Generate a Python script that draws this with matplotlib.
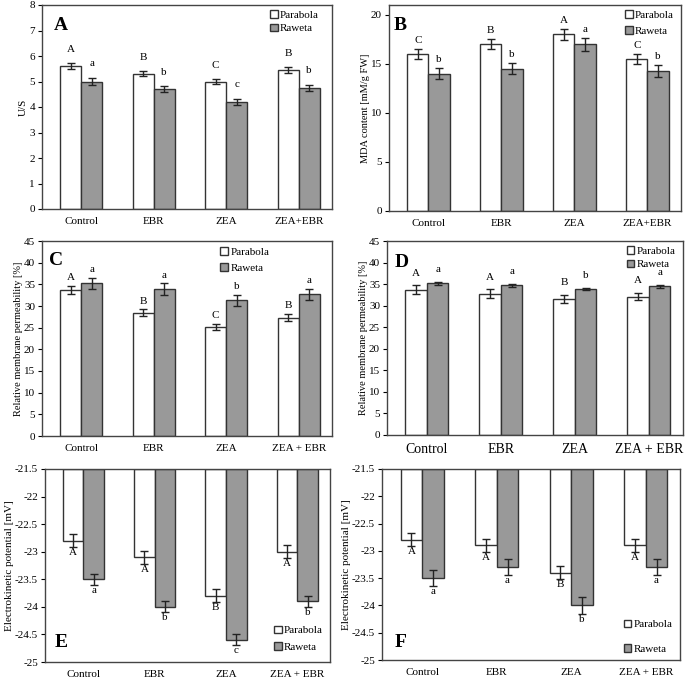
import matplotlib
matplotlib.use("Agg")
import matplotlib.pyplot as plt
import numpy as np

plt.rcParams['font.family'] = ['Liberation Serif', 'DejaVu Serif']

groups_a = ['Control', 'EBR', 'ZEA', 'ZEA+EBR']
groups_c = ['Control', 'EBR', 'ZEA', 'ZEA + EBR']
series = ['Parabola', 'Raweta']

# A - U/S
a_par = [5.6, 5.3, 5.0, 5.45]
a_par_err = [0.12, 0.1, 0.1, 0.1]
a_raw = [5.0, 4.7, 4.2, 4.75]
a_raw_err = [0.15, 0.13, 0.13, 0.13]
a_let_par = ['A', 'B', 'C', 'B']
a_let_raw = ['a', 'b', 'c', 'b']

# B - MDA
b_par = [16.0, 17.0, 18.0, 15.5]
b_par_err = [0.5, 0.5, 0.55, 0.5]
b_raw = [14.0, 14.5, 17.0, 14.3]
b_raw_err = [0.55, 0.55, 0.65, 0.6]
b_let_par = ['C', 'B', 'A', 'C']
b_let_raw = ['b', 'b', 'a', 'b']

# C - membrane permeability
c_par = [33.7, 28.4, 25.1, 27.3]
c_par_err = [1.0, 0.8, 0.7, 0.8]
c_raw = [35.2, 33.9, 31.3, 32.7]
c_raw_err = [1.3, 1.3, 1.2, 1.2]
c_let_par = ['A', 'B', 'C', 'B']
c_let_raw = ['a', 'a', 'b', 'a']

# D - membrane permeability
d_par = [33.7, 32.8, 31.6, 32.1]
d_par_err = [1.0, 1.0, 0.9, 0.9]
d_raw = [35.2, 34.7, 33.9, 34.5]
d_raw_err = [0.3, 0.3, 0.3, 0.35]
d_let_par = ['A', 'A', 'B', 'A']
d_let_raw = ['a', 'a', 'b', 'a']

# E - electrokinetic potential
e_par = [-22.8, -23.1, -23.8, -23.0]
e_par_err = [0.12, 0.12, 0.12, 0.12]
e_raw = [-23.5, -24.0, -24.6, -23.9]
e_raw_err = [0.1, 0.1, 0.1, 0.1]
e_let_par = ['A', 'A', 'B', 'A']
e_let_raw = ['a', 'b', 'c', 'b']

# F - electrokinetic potential
f_par = [-22.8, -22.9, -23.4, -22.9]
f_par_err = [0.12, 0.12, 0.12, 0.12]
f_raw = [-23.5, -23.3, -24.0, -23.3]
f_raw_err = [0.15, 0.15, 0.15, 0.15]
f_let_par = ['A', 'A', 'B', 'A']
f_let_raw = ['a', 'a', 'b', 'a']

W, H = 685, 679
fig = plt.figure(figsize=(W / 100, H / 100), dpi=100)


def box(l, r, t, b):
    return [l / W, (H - b) / H, (r - l) / W, (b - t) / H]


def panel(rect, groups, par, par_err, raw, raw_err, lp, lr, ylim, yticks,
          ylabel, tag, tagpos, legloc, legbox, base=0, down=False,
          xfs=8, off=0.03, legsp=0.4, ylfs=8):
    ax = fig.add_axes(rect)
    x = np.arange(len(groups)) + 0.04
    w = 0.29
    span = ylim[1] - ylim[0]
    ek = dict(ecolor='#222222', elinewidth=1, capsize=3, capthick=1)
    b1 = ax.bar(x - w / 2, np.array(par) - base, w, bottom=base, color='white',
                edgecolor='#333333', linewidth=1, yerr=par_err, error_kw=ek,
                label=series[0])
    b2 = ax.bar(x + w / 2, np.array(raw) - base, w, bottom=base, color='#999999',
                edgecolor='#333333', linewidth=1, yerr=raw_err, error_kw=ek,
                label=series[1])
    for i in range(len(groups)):
        for xx, v, e, t in [(x[i] - w / 2, par[i], par_err[i], lp[i]),
                            (x[i] + w / 2, raw[i], raw_err[i], lr[i])]:
            if down:
                ax.text(xx, v - e - off * span, t, ha='center', va='top', fontsize=8)
            else:
                ax.text(xx, v + e + off * span, t, ha='center', va='bottom', fontsize=8)
    ax.set_xlim(-0.5, len(groups) - 0.5)
    ax.set_ylim(*ylim)
    ax.set_yticks(yticks)
    ax.set_yticklabels([('%g' % v) for v in yticks], fontsize=8)
    ax.set_xticks(x)
    ax.set_xticklabels(groups, fontsize=xfs)
    ax.tick_params(axis='x', length=0, pad=6)
    ax.tick_params(axis='y', length=3, direction='out', width=0.8, pad=2)
    ax.set_ylabel(ylabel, fontsize=ylfs, labelpad=1)
    for s in ax.spines.values():
        s.set_color('#444444')
        s.set_linewidth(1)
    ax.text(tagpos[0], tagpos[1], tag, transform=ax.transAxes, fontsize=14,
            fontweight='bold', ha='left', va='center')
    ax.legend(handles=[b1, b2], loc=legloc, bbox_to_anchor=legbox, frameon=False,
              fontsize=8, handlelength=0.7, handleheight=0.7, handletextpad=0.2,
              labelspacing=legsp, borderaxespad=0)
    return ax


panel(box(42, 332, 5, 209), groups_a, a_par, a_par_err, a_raw, a_raw_err,
      a_let_par, a_let_raw, (0, 8), range(0, 9), 'U/S', 'A', (0.04, 0.9),
      'upper right', (0.97, 0.995), off=0.045, legsp=0.3)
panel(box(389, 681, 5, 211), groups_a, b_par, b_par_err, b_raw, b_raw_err,
      b_let_par, b_let_raw, (0, 21), range(0, 21, 5), 'MDA content [mM/g FW]',
      'B', (0.015, 0.9), 'upper right', (0.99, 0.995), off=0.02, legsp=0.5,
      ylfs=7.5)
panel(box(42, 332, 241, 436), groups_c, c_par, c_par_err, c_raw, c_raw_err,
      c_let_par, c_let_raw, (0, 45), range(0, 46, 5),
      'Relative membrane permeability [%]', 'C', (0.025, 0.9),
      'upper left', (0.6, 0.99), off=0.02, legsp=0.5, ylfs=7.5)
panel(box(387, 683, 241, 435), groups_c, d_par, d_par_err, d_raw, d_raw_err,
      d_let_par, d_let_raw, (0, 45), range(0, 46, 5),
      'Relative membrane permeability [%]', 'D', (0.027, 0.89),
      'upper right', (0.99, 0.995), xfs=10, off=0.04, legsp=0.3, ylfs=7.5)
panel(box(45, 330, 469, 662), groups_c, e_par, e_par_err, e_raw, e_raw_err,
      e_let_par, e_let_raw, (-25, -21.5), np.arange(-25, -21.4, 0.5),
      'Electrokinetic potential [mV]', 'E', (0.035, 0.1),
      'lower right', (0.99, 0.03), base=-21.5, down=True, off=0.005,
      legsp=0.6)
panel(box(382, 680, 469, 660), groups_c, f_par, f_par_err, f_raw, f_raw_err,
      f_let_par, f_let_raw, (-25, -21.5), np.arange(-25, -21.4, 0.5),
      'Electrokinetic potential [mV]', 'F', (0.044, 0.09),
      'lower right', (0.99, 0.01), base=-21.5, down=True, off=0.005, legsp=1.3)

fig.savefig('out.png', dpi=100)
